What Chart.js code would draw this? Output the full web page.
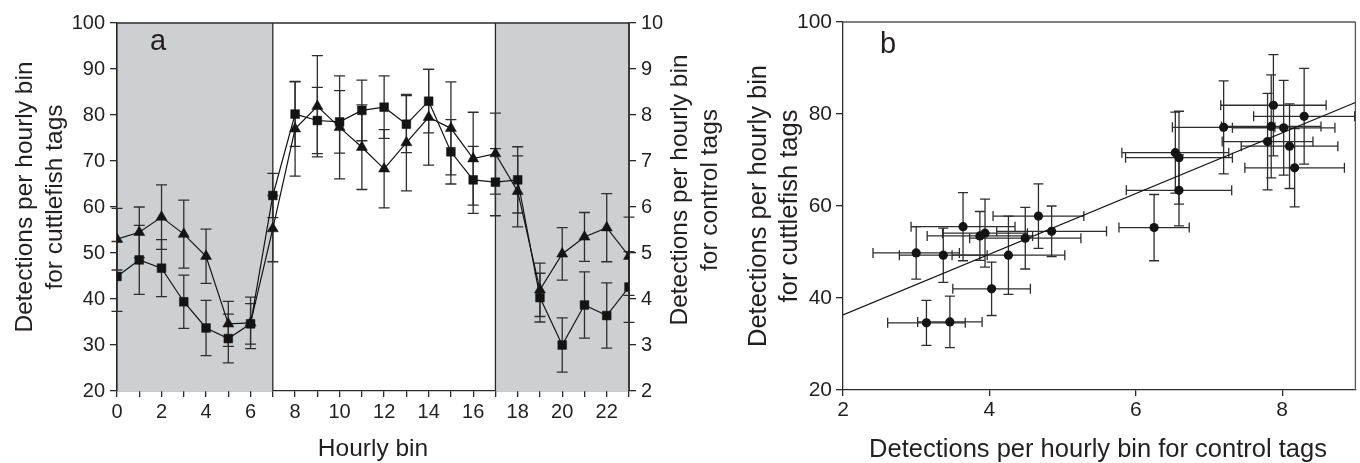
<!DOCTYPE html>
<html><head><meta charset="utf-8">
<script src="https://cdn.jsdelivr.net/npm/chart.js@4.4.1/dist/chart.umd.min.js"></script>
<style>
html,body{margin:0;padding:0;background:#fff;}
#wrap{position:relative;width:1360px;height:463px;overflow:hidden;background:#fff;}
#ca{position:absolute;left:0;top:0;}
#cb{position:absolute;left:720px;top:0;}
</style></head><body>
<div id="wrap"><canvas id="ca" width="740" height="463"></canvas><canvas id="cb" width="640" height="463"></canvas></div>
<script>
// ---------- data ----------
const hours = [0,1,2,3,4,5,6,7,8,9,10,11,12,13,14,15,16,17,18,19,20,21,22,23];
const cuttlefish = [53.0,54.5,57.8,54.1,49.3,34.6,34.8,55.3,77.0,81.9,77.3,73.0,68.3,74.0,79.5,77.1,70.5,71.6,63.4,42.0,49.8,53.5,55.5,49.3];
const cuttleErr  = [6.7,5.5,7.0,7.4,5.9,4.9,5.6,7.2,10.3,11.0,11.2,9.2,8.5,10.5,10.4,10.1,10.1,8.8,7.7,5.8,5.7,5.3,7.4,8.5];
const control    = [4.49,4.85,4.67,3.94,3.37,3.14,3.46,6.25,8.02,7.88,7.85,8.10,8.17,7.80,8.30,7.20,6.59,6.54,6.59,4.03,3.00,3.87,3.64,4.26];
const controlErr = [0.76,0.75,0.62,0.58,0.60,0.53,0.44,0.48,0.70,0.72,0.68,0.66,0.68,0.62,0.69,0.70,0.73,0.73,0.72,0.53,0.59,0.72,0.71,0.77];
const nightBands = [[0,7],[17,23]];
const hourTickLabels = ['0','','2','','4','','6','','8','','10','','12','','14','','16','','18','','20','','22',''];
const leftTicksA = [20,30,40,50,60,70,80,90,100];
const rightTicksA = [2,3,4,5,6,7,8,9,10];
const xTicksB = [2,4,6,8];
const yTicksB = [20,40,60,80,100];
const fitX = [2,9];
const fitY = [36.3,82.5];

// ---------- style ----------
const FONT = "'Liberation Sans', Arial, Helvetica, sans-serif";
const TXT = '#231f20';
const AX = '#2a2a2a';
const MARK = '#141414';
const ERR = '#2e2e2e';
const SHADE = 'rgb(205,208,211)';

function pinW(w){ return s => { s.width = w; }; }
function pinH(h){ return s => { s.height = h; }; }
function fixedTicks(list){ return s => { s.ticks = list.map(v => ({value: v})); }; }

const decor = {
  id: 'decor',
  beforeDatasetsDraw(chart, args, o) {
    const ctx = chart.ctx, a = chart.chartArea, xs = chart.scales.x;
    ctx.save();
    (o.bands || []).forEach(b => {
      const x0 = xs.getPixelForValue(b[0]), x1 = xs.getPixelForValue(b[1]);
      ctx.fillStyle = SHADE;
      ctx.fillRect(x0, a.top, x1 - x0, a.bottom - a.top);
      ctx.strokeStyle = AX; ctx.lineWidth = 1.3;
      ctx.beginPath();
      ctx.moveTo(x0, a.top); ctx.lineTo(x0, a.bottom);
      ctx.moveTo(x1, a.top); ctx.lineTo(x1, a.bottom);
      ctx.stroke();
    });
    // frame
    ctx.strokeStyle = o.frameColor || AX; ctx.lineWidth = 1.3;
    ctx.beginPath();
    ctx.moveTo(a.left, a.top); ctx.lineTo(a.right, a.top);
    ctx.moveTo(a.right, a.top); ctx.lineTo(a.right, a.bottom);
    ctx.stroke();
    // error bars
    ctx.strokeStyle = ERR; ctx.lineWidth = 1.3;
    chart.data.datasets.forEach((ds, di) => {
      if (!ds.errY && !ds.errX) return;
      const ys = chart.scales[ds.yAxisID || 'y'];
      ds.data.forEach((p, i) => {
        const px = xs.getPixelForValue(p.x), py = ys.getPixelForValue(p.y);
        const cap = o.cap || 5.5;
        ctx.beginPath();
        if (ds.errY) {
          const t = ys.getPixelForValue(p.y + ds.errY[i]), b = ys.getPixelForValue(p.y - ds.errY[i]);
          ctx.moveTo(px, t); ctx.lineTo(px, b);
          ctx.moveTo(px - cap, t); ctx.lineTo(px + cap, t);
          ctx.moveTo(px - cap, b); ctx.lineTo(px + cap, b);
        }
        if (ds.errX) {
          const l = xs.getPixelForValue(p.x - ds.errX[i]), r = xs.getPixelForValue(p.x + ds.errX[i]);
          ctx.moveTo(l, py); ctx.lineTo(r, py);
          ctx.moveTo(l, py - cap); ctx.lineTo(l, py + cap);
          ctx.moveTo(r, py - cap); ctx.lineTo(r, py + cap);
        }
        ctx.stroke();
      });
    });
    ctx.restore();
  },
  afterDraw(chart, args, o) {
    const ctx = chart.ctx;
    ctx.save();
    ctx.fillStyle = TXT;
    (o.titles || []).forEach(t => {
      ctx.font = t.size + 'px ' + FONT;
      ctx.textAlign = 'center';
      ctx.textBaseline = 'alphabetic';
      if (t.rot) {
        t.lines.forEach((line, k) => {
          ctx.save();
          ctx.translate(t.x[k], t.y);
          ctx.rotate(-Math.PI / 2);
          ctx.fillText(line, 0, 0);
          ctx.restore();
        });
      } else {
        ctx.fillText(t.lines[0], t.x[0], t.y);
      }
    });
    ctx.restore();
  }
};

function axisStyle(size) {
  return {
    ticks: { font: { family: FONT, size: size }, color: TXT },
    grid: { drawOnChartArea: false, tickLength: 7, color: AX, lineWidth: 1.3 },
    border: { color: AX, width: 1.3 }
  };
}

// ---------- panel a ----------
const sa = axisStyle(20);
new Chart(document.getElementById('ca'), {
  type: 'line',
  data: { datasets: [
    { label: 'Cuttlefish tags', yAxisID: 'y',
      data: hours.map((h, i) => ({ x: h, y: cuttlefish[i] })), errY: cuttleErr,
      borderColor: MARK, borderWidth: 1.2, tension: 0,
      pointStyle: 'triangle', pointRadius: 6.4, pointBackgroundColor: MARK, pointBorderColor: MARK, pointBorderWidth: 0.5 },
    { label: 'Control tags', yAxisID: 'y2',
      data: hours.map((h, i) => ({ x: h, y: control[i] })), errY: controlErr,
      borderColor: MARK, borderWidth: 1.2, tension: 0,
      pointStyle: 'rect', pointRadius: 6.2, pointBackgroundColor: MARK, pointBorderColor: MARK, pointBorderWidth: 0.5 }
  ]},
  options: {
    responsive: false, animation: false, devicePixelRatio: 1,
    layout: { padding: { top: 23, left: 0, right: 0, bottom: 0 } },
    plugins: {
      legend: { display: false }, tooltip: { enabled: false },
      decor: {
        bands: nightBands, cap: 5.5,
        titles: [
          { rot: true, lines: ['Detections per hourly bin', 'for cuttlefish tags'], x: [31.5, 61.5], y: 197, size: 24.5 },
          { rot: true, lines: ['Detections per hourly bin', 'for control tags'], x: [686.5, 716.5], y: 190, size: 24.5 },
          { rot: false, lines: ['Hourly bin'], x: [373], y: 456, size: 24.5 },
          { rot: false, lines: ['a'], x: [158], y: 50, size: 29 }
        ]
      }
    },
    scales: {
      x: { type: 'linear', min: 0, max: 23, afterFit: pinH(72), afterBuildTicks: fixedTicks(hours),
        ticks: { ...sa.ticks, autoSkip: false, maxRotation: 0, padding: 3, callback: (v, i) => hourTickLabels[i] },
        grid: { ...sa.grid, tickLength: 6 }, border: sa.border },
      y: { position: 'left', min: 20, max: 100, afterFit: pinW(117), afterBuildTicks: fixedTicks(leftTicksA),
        ticks: { ...sa.ticks, padding: 5 }, grid: sa.grid, border: sa.border },
      y2: { position: 'right', min: 2, max: 10, afterFit: pinW(111), afterBuildTicks: fixedTicks(rightTicksA),
        ticks: { ...sa.ticks, padding: 5 }, grid: sa.grid, border: sa.border }
    }
  },
  plugins: [decor]
});

// ---------- panel b ----------
const sb = axisStyle(21);
new Chart(document.getElementById('cb'), {
  type: 'scatter',
  data: { datasets: [
    { type: 'line', label: 'Fit', data: fitX.map((x, i) => ({ x: x, y: fitY[i] })),
      borderColor: MARK, borderWidth: 1.3, pointRadius: 0, tension: 0 },
    { label: 'Hourly bins', data: hours.map((h, i) => ({ x: control[i], y: cuttlefish[i] })),
      errY: cuttleErr, errX: controlErr,
      pointStyle: 'circle', pointRadius: 4.6, pointBackgroundColor: MARK, pointBorderColor: MARK, pointBorderWidth: 0 }
  ]},
  options: {
    responsive: false, animation: false, devicePixelRatio: 1,
    layout: { padding: { top: 22, left: 0, right: 4, bottom: 0 } },
    plugins: {
      legend: { display: false }, tooltip: { enabled: false },
      decor: {
        cap: 5, frameColor: '#555',
        titles: [
          { rot: true, lines: ['Detections per hourly bin', 'for cuttlefish tags'], x: [45.5, 76.5], y: 206, size: 25.5 },
          { rot: false, lines: ['Detections per hourly bin for control tags'], x: [378], y: 457, size: 25.5 },
          { rot: false, lines: ['b'], x: [168], y: 53, size: 29 }
        ]
      }
    },
    scales: {
      x: { type: 'linear', min: 2, max: 9, afterFit: pinH(73), afterBuildTicks: fixedTicks(xTicksB),
        ticks: { ...sb.ticks, padding: 2, maxRotation: 0 }, grid: { ...sb.grid, tickLength: 6 }, border: sb.border },
      y: { position: 'left', min: 20, max: 100, afterFit: pinW(123), afterBuildTicks: fixedTicks(yTicksB),
        ticks: { ...sb.ticks, padding: 4 }, grid: sb.grid, border: sb.border }
    }
  },
  plugins: [decor]
});
</script>
</body></html>
